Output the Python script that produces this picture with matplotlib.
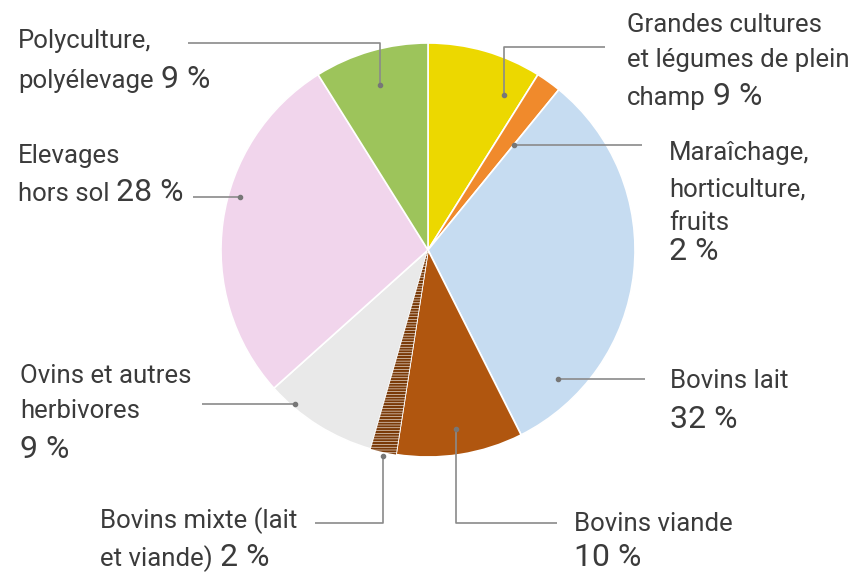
import matplotlib
matplotlib.use("Agg")
import matplotlib.pyplot as plt
from matplotlib.patches import Wedge

# ---- data ----
categories = ["Grandes cultures et légumes de plein champ", "Maraîchage, horticulture, fruits",
              "Bovins lait", "Bovins viande", "Bovins mixte (lait et viande)",
              "Ovins et autres herbivores", "Elevages hors sol", "Polyculture, polyélevage"]
values = [9, 2, 32, 10, 2, 9, 28, 9]
colors = ["#ecd800", "#f08a2c", "#c6dcf1", "#b0560f", "#ffffff", "#e9e9e9", "#f1d5ec", "#9dc45b"]
pct_labels = ["9 %", "2 %", "32 %", "10 %", "2 %", "9 %", "28 %", "9 %"]

W, H = 864, 572
fig = plt.figure(figsize=(W / 100, H / 100), dpi=100)
ax = fig.add_axes([0, 0, 1, 1])

def Y(y):
    return H - y

cx, cy, R = 428, 250, 207
wedges, _ = ax.pie(values, colors=colors, startangle=90, counterclock=False,
                   center=(cx, Y(cy)), radius=R, frame=True,
                   wedgeprops=dict(edgecolor="white", linewidth=1.2))
ax.set_xlim(0, W)
ax.set_ylim(0, H)
ax.set_aspect("equal")
ax.axis("off")

# hatched mixte wedge
wm = wedges[4]
plt.rcParams["hatch.linewidth"] = 1.6
hw = Wedge(wm.center, wm.r, wm.theta1, wm.theta2, facecolor="white",
           edgecolor="#7a3a08", hatch="------", linewidth=0)
ax.add_patch(hw)

FONT = "Roboto"
TXT = "#3b3b3b"
LINE = "#8a8a8a"
FS = 18.5
FSP = 23
renderer = fig.canvas.get_renderer()

def label(x, y, txt, pct=None):
    t = ax.text(x, Y(y), txt, fontsize=FS, family=FONT, color=TXT, va="baseline", ha="left")
    if pct is not None:
        if txt:
            bb = t.get_window_extent(renderer)
            px = bb.x1 + 7
        else:
            px = x
        ax.text(px, Y(y), pct, fontsize=FSP, family=FONT, color=TXT, va="baseline", ha="left")

def leader(pts):
    xs = [p[0] for p in pts]
    ys = [Y(p[1]) for p in pts]
    ax.plot(xs, ys, color=LINE, lw=1.2, solid_capstyle="butt")
    ax.plot(xs[-1], ys[-1], "o", color="#777777", ms=3)

# Polyculture
label(18, 48, "Polyculture,")
label(18, 88, "polyélevage", pct_labels[7])
leader([(188, 43), (380, 43), (380, 85)])

# Elevages hors sol
label(18, 163, "Elevages")
label(18, 201, "hors sol", pct_labels[6])
leader([(193, 197), (240, 197)])

# Grandes cultures
label(627, 32, "Grandes cultures")
label(627, 67, "et légumes de plein")
label(627, 105, "champ", pct_labels[0])
leader([(605, 47), (504, 47), (504, 95)])

# Maraichage
label(669, 160, "Maraîchage,")
label(669, 197, "horticulture,")
label(669, 230, "fruits")
label(669, 260, "", pct_labels[1])
leader([(642, 145), (514, 145)])

# Bovins lait
label(670, 388, "Bovins lait")
label(670, 428, "", pct_labels[2])
leader([(645, 379), (558, 379)])

# Ovins
label(20, 383, "Ovins et autres")
label(20, 418, "herbivores")
label(20, 458, "", pct_labels[5])
leader([(202, 404), (295, 404)])

# Bovins mixte
label(100, 528, "Bovins mixte (lait")
label(100, 566, "et viande)", pct_labels[4])
leader([(315, 523), (383, 523), (383, 456)])

# Bovins viande
label(574, 531, "Bovins viande")
label(574, 566, "", pct_labels[3])
leader([(557, 523), (456, 523), (456, 429)])

fig.savefig("out.png", dpi=100, facecolor="white")
